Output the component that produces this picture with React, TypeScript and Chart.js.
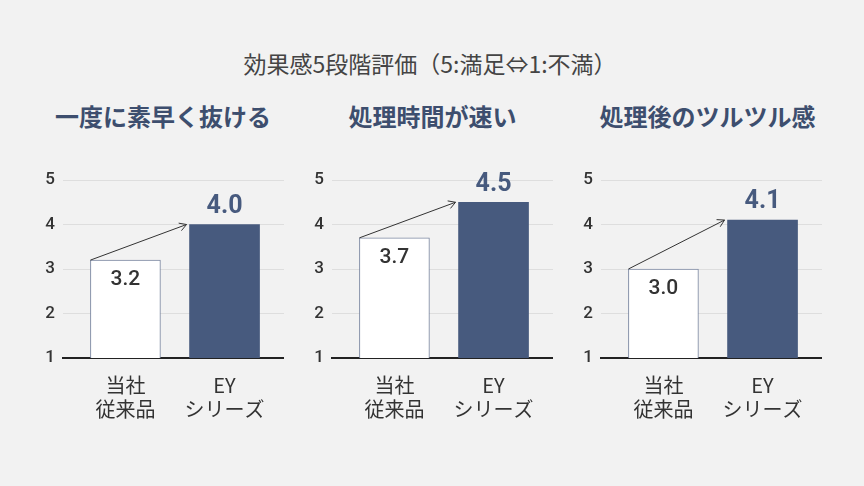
import React, { useEffect, useRef } from 'react';
import { Chart, registerables } from 'chart.js';

Chart.register(...registerables);

const FONT = '"Noto Sans CJK JP", "Noto Sans", sans-serif';
const NUM_FONT = 'Roboto, "Noto Sans CJK JP", sans-serif';

const subtitle = '効果感5段階評価（5:満足⇔1:不満）';
const panelTitles = ['一度に素早く抜ける', '処理時間が速い', '処理後のツルツル感'];
const categoryLabels = [
  ['当社', '従来品'],
  ['EY', 'シリーズ'],
];
const previousScores = [3.2, 3.7, 3.0];
const eyScores = [4.0, 4.5, 4.1];
const yTickValues = [1, 2, 3, 4, 5];

const NAVY = '#475a7e';
const BAR_OUTLINE = '#7b87a1';

// layout (pixels) – not data
const panelGridLeft = [63, 332, 601];
const panelTitleCenter = [163, 432.5, 707.5];
const Y_AXIS_W = 33;
const GRID_W = 221;

const overlayPlugin = {
  id: 'overlay',
  afterDatasetsDraw(chart: any) {
    const meta = chart.getDatasetMeta(0);
    const b0 = meta.data[0] as any;
    const b1 = meta.data[1] as any;
    const vals = chart.data.datasets[0].data as any[];
    const ctx = chart.ctx as CanvasRenderingContext2D;
    ctx.save();
    // arrow from top-left of previous bar to top-left of EY bar
    const x0 = b0.x - b0.width / 2;
    const y0 = b0.y;
    const x1 = b1.x - b1.width / 2 - 3;
    const y1 = b1.y;
    ctx.strokeStyle = '#333';
    ctx.lineWidth = 1;
    ctx.beginPath();
    ctx.moveTo(x0, y0);
    ctx.lineTo(x1, y1);
    ctx.stroke();
    const ang = Math.atan2(y1 - y0, x1 - x0);
    const L = 8;
    const A = Math.PI / 6;
    ctx.beginPath();
    ctx.moveTo(x1 - L * Math.cos(ang - A), y1 - L * Math.sin(ang - A));
    ctx.lineTo(x1, y1);
    ctx.lineTo(x1 - L * Math.cos(ang + A), y1 - L * Math.sin(ang + A));
    ctx.stroke();
    // value labels
    ctx.textAlign = 'center';
    ctx.textBaseline = 'middle';
    ctx.fillStyle = '#333';
    ctx.font = `500 21px ${NUM_FONT}`;
    ctx.fillText(Number(vals[0].y).toFixed(1), b0.x, b0.y + 19.5);
    ctx.fillStyle = NAVY;
    ctx.font = `bold 25px ${NUM_FONT}`;
    ctx.fillText(Number(vals[1].y).toFixed(1), b1.x, b1.y - 18);
    ctx.restore();
  },
};

function Panel({ index }: { index: number }) {
  const ref = useRef<HTMLCanvasElement | null>(null);
  useEffect(() => {
    if (!ref.current) return;
    const chart = new Chart(ref.current, {
      type: 'bar',
      data: {
        datasets: [
          {
            data: [
              { x: 0, y: previousScores[index] },
              { x: 1, y: eyScores[index] },
            ],
            backgroundColor: ['#ffffff', NAVY],
            borderColor: [BAR_OUTLINE, NAVY],
            borderWidth: [1, 0],
            barThickness: 70,
          } as any,
        ],
      },
      options: {
        animation: false,
        responsive: true,
        maintainAspectRatio: false,
        layout: { padding: { top: 30, left: 0, right: 0, bottom: 0 } },
        plugins: { legend: { display: false }, tooltip: { enabled: false } },
        scales: {
          x: {
            type: 'linear',
            min: -0.63,
            max: 1.6,
            offset: false,
            afterBuildTicks: (s: any) => {
              s.ticks = categoryLabels.map((_, i) => ({ value: i }));
            },
            afterFit: (s: any) => {
              s.height = 82;
            },
            grid: { display: false },
            border: { display: true, color: '#222', width: 2 },
            ticks: {
              callback: (v: any) => categoryLabels[v as number],
              font: { family: FONT, size: 20, lineHeight: 1.2 },
              color: '#333',
              padding: 7,
              maxRotation: 0,
              autoSkip: false,
            },
          },
          y: {
            min: 1,
            max: 5,
            beginAtZero: false,
            afterBuildTicks: (s: any) => {
              s.ticks = yTickValues.map((v) => ({ value: v }));
            },
            afterFit: (s: any) => {
              s.width = Y_AXIS_W;
            },
            border: { display: false },
            grid: {
              color: (c: any) => (c.tick && c.tick.value === 1 ? 'rgba(0,0,0,0)' : '#dedede'),
              lineWidth: 1,
              drawTicks: false,
            },
            ticks: { font: { family: NUM_FONT, size: 17, weight: '500' }, color: '#333', padding: 8 },
          },
        } as any,
      },
      plugins: [overlayPlugin],
    });
    return () => chart.destroy();
  }, [index]);
  return (
    <div
      style={{
        position: 'absolute',
        left: panelGridLeft[index] - Y_AXIS_W,
        top: 150,
        width: Y_AXIS_W + GRID_W,
        height: 290,
      }}
    >
      <canvas ref={ref} style={{ display: 'block' }} />
    </div>
  );
}

export default function App() {
  return (
    <div
      style={{
        position: 'absolute',
        left: 0,
        top: 0,
        width: 864,
        height: 486,
        background: '#f2f2f2',
        overflow: 'hidden',
        fontFamily: FONT,
      }}
    >
      <div
        style={{
          position: 'absolute',
          left: 130,
          width: 600,
          top: 52,
          textAlign: 'center',
          fontSize: 23,
          lineHeight: '23px',
          color: '#444',
          whiteSpace: 'nowrap',
        }}
      >
        {subtitle}
      </div>
      {panelTitles.map((t, i) => (
        <div
          key={t}
          style={{
            position: 'absolute',
            left: panelTitleCenter[i] - 150,
            width: 300,
            top: 104,
            textAlign: 'center',
            fontSize: 24,
            fontWeight: 700,
            lineHeight: '24px',
            color: '#3d4e6e',
            whiteSpace: 'nowrap',
          }}
        >
          {t}
        </div>
      ))}
      {panelTitles.map((t, i) => (
        <Panel key={'p' + i} index={i} />
      ))}
    </div>
  );
}
